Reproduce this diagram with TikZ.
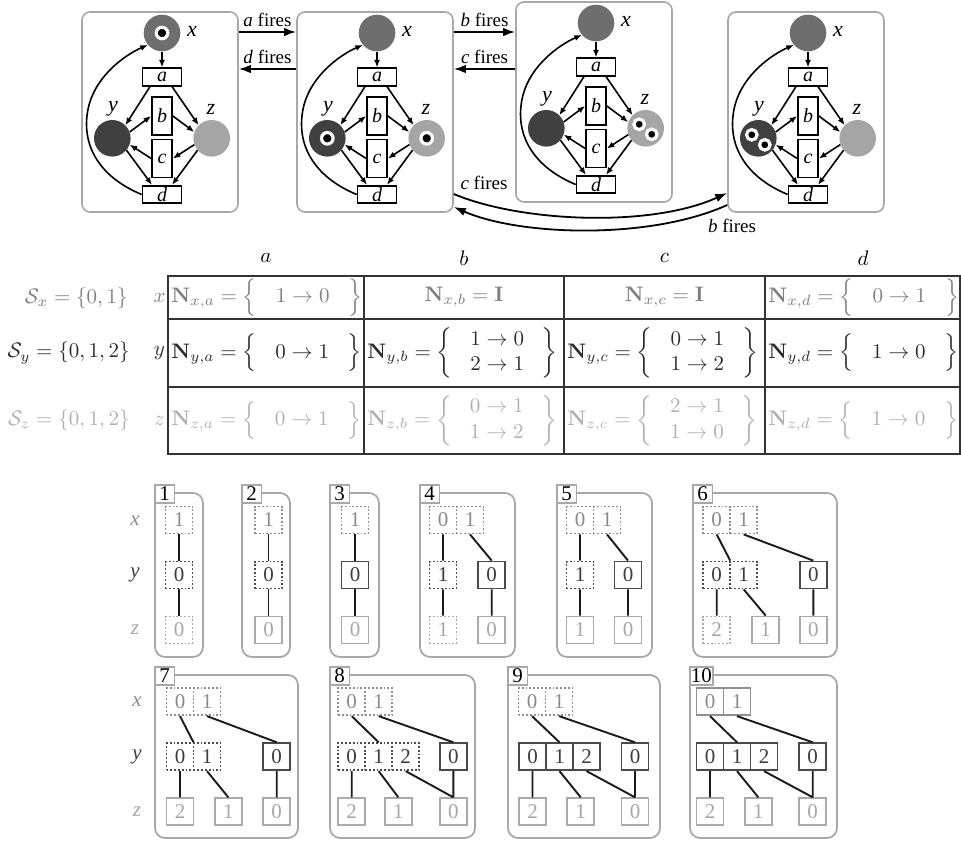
\documentclass[tikz,border=0pt]{standalone}
\usepackage{amsmath}
\usepackage[no-math]{fontspec}
\setmainfont{Liberation Serif}
\usetikzlibrary{arrows.meta,calc}

\definecolor{xfill}{HTML}{6E6E6E}
\definecolor{yfill}{HTML}{404040}
\definecolor{zfill}{HTML}{A5A5A5}
\definecolor{boxgray}{HTML}{A8A8A8}
\definecolor{tline}{HTML}{333333}
\definecolor{tx}{HTML}{7F7F7F}
\definecolor{ty}{HTML}{2B2B2B}
\definecolor{tz}{HTML}{B0B0B0}
\definecolor{xt}{HTML}{8A8A8A}
\definecolor{xb}{HTML}{8F8F8F}
\definecolor{yt}{HTML}{3C3C3C}
\definecolor{yb}{HTML}{4A4A4A}
\definecolor{zt}{HTML}{A6A6A6}
\definecolor{zb}{HTML}{AAAAAA}
\definecolor{edgec}{HTML}{1A1A1A}

\newcommand\pnfont{\fontsize{22}{26}\selectfont\itshape}
\newcommand\trfont{\fontsize{20}{24}\selectfont\itshape}
\newcommand\flfont{\fontsize{19}{22}\selectfont}
\newcommand\dfont{\fontsize{21}{24}\selectfont}
\newcommand\rlfont{\fontsize{21}{24}\selectfont\itshape}

\tikzset{
 place/.style={circle, minimum size=36.6, inner sep=0},
 trans/.style={draw=black, line width=1.7, fill=white, inner sep=0, font=\trfont},
 hbar/.style={trans, minimum width=39, minimum height=17.5},
 vbar/.style={trans, minimum width=20, minimum height=38},
 pnlab/.style={font=\pnfont, inner sep=0},
 arc/.style={line width=1.6, -{Latex[length=7.5,width=6]}},
 token/.style={circle, fill=black, draw=white, line width=3.2, minimum size=11.5, inner sep=0},
 tokentwo/.style={token, minimum size=10.5},
 netbox/.style={draw=boxgray, line width=1.6, rounded corners=8, minimum width=156, minimum height=200, inner sep=0},
 bigarr/.style={line width=1.8, -{Latex[length=12,width=8.5]}},
 flab/.style={font=\flfont, inner sep=0},
 tbl/.style={scale=2.1, inner sep=0},
 cell/.style={minimum width=27, minimum height=27, inner sep=0, line width=1.8, font=\dfont},
 cx/.style={cell, draw=xb, text=xt},
 cy/.style={cell, draw=yb, text=yt},
 cz/.style={cell, draw=zb, text=zt},
 edge/.style={line width=1.9, draw=edgec},
 pbox/.style={draw=boxgray, line width=1.8, rounded corners=10},
 plab/.style={draw=boxgray, line width=1.8, fill=white, minimum width=19.5, minimum height=18, inner sep=1, font=\dfont, anchor=north west, text=black},
 rl/.style={font=\rlfont, inner sep=0},
}

\newcommand\pnet[2]{%
\begin{scope}[shift={#1}, name prefix=#2-]
 \node[netbox] (box) at (160,112) {};
 \node[place, fill=xfill] (x) at (162,33) {};
 \node[place, fill=yfill] (y) at (112.3,138.3) {};
 \node[place, fill=zfill] (z) at (211.7,138.3) {};
 \node[hbar] (a) at (162,77) {a};
 \node[vbar] (b) at (162,116) {b};
 \node[vbar] (c) at (162,158.5) {c};
 \node[hbar] (d) at (162,194.5) {d};
 \node[pnlab] (xl) at (192,31) {x};
 \node[pnlab] (yl) at (113,109) {y};
 \node[pnlab] (zl) at (211,109) {z};
 \draw[arc] (x) -- (a);
 \draw[arc] ([xshift=-12pt]a.south) -- (y.45);
 \draw[arc] ([xshift=10pt]a.south) -- (z.135);
 \draw[arc] (y.20) -- (b.west);
 \draw[arc] (b.east) -- (z.160);
 \draw[arc] (z.200) -- (c.east);
 \draw[arc] (c.west) -- (y.340);
 \draw[arc] (y.320) -- ([xshift=-10pt]d.north);
 \draw[arc] (z.220) -- ([xshift=10pt]d.north);
 \draw[arc] (d.west) .. controls (95,175) and (80,140) .. (89,105) .. controls (97,75) and (125,55) .. (x.220);
\end{scope}}

\newcommand\mddpanel[6]{%
 \draw[pbox] (#1,#2) rectangle (#3,#4);
 \node[plab] (#5) at (#1-1,#2-9) {#6};}

\begin{document}
\begin{tikzpicture}[x=1pt,y=-1pt]
\useasboundingbox (0,0) rectangle (961,841);

% ---------- Petri nets ----------
\pnet{(0,0)}{n1}
\pnet{(215,0)}{n2}
\pnet{(434,-10)}{n3}
\pnet{(646,0)}{n4}

\node[token] (t1) at (n1-x) {};
\node[token] (t2) at (n2-y) {};
\node[token] (t3) at (n2-z) {};
\node[tokentwo] (t4) at ($(n3-z)+(-6.5,-4)$) {};
\node[tokentwo] (t5) at ($(n3-z)+(6,6)$) {};
\node[tokentwo] (t6) at ($(n4-y)+(-6.5,-3.5)$) {};
\node[tokentwo] (t7) at ($(n4-y)+(6.5,6.5)$) {};

\coordinate (r1) at (0,32);
\coordinate (r2) at (0,69);
\draw[bigarr] (n1-box.east |- r1) -- node[flab, above=4pt] {\textit{a} fires} (n2-box.west |- r1);
\draw[bigarr] (n2-box.west |- r2) -- node[flab, above=4pt] {\textit{d} fires} (n1-box.east |- r2);
\draw[bigarr] (n2-box.east |- r1) -- node[flab, above=4pt] {\textit{b} fires} (n3-box.west |- r1);
\draw[bigarr] (n3-box.west |- r2) -- node[flab, above=4pt] {\textit{c} fires} (n2-box.east |- r2);

\coordinate (q1) at (0,194);
\coordinate (q2) at (0,193);
\coordinate (q3) at (0,205);
\coordinate (q4) at (0,207);
\draw[bigarr] (n2-box.east |- q1) .. controls (520,222) and (650,228) .. (n4-box.west |- q2);
\draw[bigarr] (n4-box.west |- q3) .. controls (650,240) and (520,236) .. (n2-box.east |- q4);
\node[flab] (cf) at (484,183) {\textit{c} fires};
\node[flab] (bf) at (732,226) {\textit{b} fires};

% ---------- Table ----------
\draw[tline, line width=1.5] (168,276) rectangle (960,454);
\draw[tline, line width=1.5] (168,319) -- (960,319) (168,387) -- (960,387)
  (364,276) -- (364,454) (564,276) -- (564,454) (765,276) -- (765,454);

\node[tbl] (ha) at (266,258) {$a$};
\node[tbl] (hb) at (464,258) {$b$};
\node[tbl] (hc) at (664.5,258) {$c$};
\node[tbl] (hd) at (863,258) {$d$};

\node[tbl, text=tx, anchor=east] (sx) at (128,298) {$\mathcal{S}_x=\{0,1\}$};
\node[tbl, text=ty, anchor=east] (sy) at (130,353) {$\mathcal{S}_y=\{0,1,2\}$};
\node[tbl, text=tz, anchor=east] (sz) at (130,420.5) {$\mathcal{S}_z=\{0,1,2\}$};
\node[tbl, text=tx] (lx) at (159.5,297.5) {$x$};
\node[tbl, text=ty] (ly) at (159.5,353) {$y$};
\node[tbl, text=tz] (lz) at (159.5,420.5) {$z$};

\node[tbl, text=tx, anchor=west] (nxa) at (171,297.5) {$\mathbf{N}_{x,a}=\Big\{\hspace{.9em}1\to0\hspace{.9em}\Big\}$};
\node[tbl, text=tx] (nxb) at (464,297.5) {$\mathbf{N}_{x,b}=\mathbf{I}$};
\node[tbl, text=tx] (nxc) at (664.5,297.5) {$\mathbf{N}_{x,c}=\mathbf{I}$};
\node[tbl, text=tx, anchor=west] (nxd) at (768,297.5) {$\mathbf{N}_{x,d}=\Big\{\hspace{.9em}0\to1\hspace{.9em}\Big\}$};

\node[tbl, text=ty, anchor=west] (nya) at (171,353) {$\mathbf{N}_{y,a}=\Big\{\hspace{.9em}0\to1\hspace{.9em}\Big\}$};
\node[tbl, text=ty, anchor=west] (nyb) at (367,353) {$\mathbf{N}_{y,b}=\left\{\hspace{.35em}\begin{array}{c}1\to0\\2\to1\end{array}\hspace{.35em}\right\}$};
\node[tbl, text=ty, anchor=west] (nyc) at (567,353) {$\mathbf{N}_{y,c}=\left\{\hspace{.35em}\begin{array}{c}0\to1\\1\to2\end{array}\hspace{.35em}\right\}$};
\node[tbl, text=ty, anchor=west] (nyd) at (768,353) {$\mathbf{N}_{y,d}=\Big\{\hspace{.9em}1\to0\hspace{.9em}\Big\}$};

\node[tbl, text=tz, anchor=west] (nza) at (171,420.5) {$\mathbf{N}_{z,a}=\Big\{\hspace{.9em}0\to1\hspace{.9em}\Big\}$};
\node[tbl, text=tz, anchor=west] (nzb) at (367,420.5) {$\mathbf{N}_{z,b}=\left\{\hspace{.35em}\begin{array}{c}0\to1\\1\to2\end{array}\hspace{.35em}\right\}$};
\node[tbl, text=tz, anchor=west] (nzc) at (567,420.5) {$\mathbf{N}_{z,c}=\left\{\hspace{.35em}\begin{array}{c}2\to1\\1\to0\end{array}\hspace{.35em}\right\}$};
\node[tbl, text=tz, anchor=west] (nzd) at (768,420.5) {$\mathbf{N}_{z,d}=\Big\{\hspace{.9em}1\to0\hspace{.9em}\Big\}$};

% ---------- MDD panels ----------
\node[rl, text=xt] (rx1) at (135,521) {x};
\node[rl, text=yt] (ry1) at (135,575) {y};
\node[rl, text=zt] (rz1) at (135,630) {z};
\node[rl, text=xt] (rx2) at (137,702) {x};
\node[rl, text=yt] (ry2) at (137,757) {y};
\node[rl, text=zt] (rz2) at (137,812) {z};

% panel 1
\mddpanel{155}{493}{203}{657}{L1}{1}
\node[cx,dotted] (p1x) at (179,520) {1};
\node[cy,dotted] (p1y) at (179,575) {0};
\node[cz,dotted] (p1z) at (179,630) {0};
\draw[edge] (p1x) -- (p1y) (p1y) -- (p1z);

% panel 2
\mddpanel{242}{493}{290}{657}{L2}{2}
\node[cx,dotted] (p2x) at (268.5,520) {1};
\node[cy,dotted] (p2y) at (268.5,575) {0};
\node[cz] (p2z) at (268.5,630) {0};
\draw[edge] (p2x) -- (p2y) (p2y) -- (p2z);

% panel 3
\mddpanel{330}{493}{379}{657}{L3}{3}
\node[cx,dotted] (p3x) at (355,520) {1};
\node[cy] (p3y) at (355,575) {0};
\node[cz] (p3z) at (355,630) {0};
\draw[edge] (p3x) -- (p3y) (p3y) -- (p3z);

% panel 4
\mddpanel{420}{493}{515}{657}{L4}{4}
\node[cx,dotted] (p4x0) at (443,520) {0};
\node[cx,dotted] (p4x1) at (470,520) {1};
\node[cy,dotted] (p4y1) at (443,575) {1};
\node[cy] (p4y0) at (491.7,575) {0};
\node[cz,dotted] (p4z1) at (443,630) {1};
\node[cz] (p4z0) at (491.7,630) {0};
\draw[edge] (p4x0.south) -- (p4y1.north) (p4x1.south) -- (p4y0.north)
  (p4y1) -- (p4z1) (p4y0) -- (p4z0);

% panel 5
\mddpanel{557}{493}{652}{657}{L5}{5}
\node[cx,dotted] (p5x0) at (580,520) {0};
\node[cx,dotted] (p5x1) at (607,520) {1};
\node[cy,dotted] (p5y1) at (580,575) {1};
\node[cy] (p5y0) at (628,575) {0};
\node[cz] (p5z1) at (580,630) {1};
\node[cz] (p5z0) at (628,630) {0};
\draw[edge] (p5x0.south) -- (p5y1.north) (p5x1.south) -- (p5y0.north)
  (p5y1) -- (p5z1) (p5y0) -- (p5z0);

% panel 6
\mddpanel{693}{493}{837}{657}{L6}{6}
\node[cx,dotted] (p6x0) at (716.7,520) {0};
\node[cx,dotted] (p6x1) at (743.7,520) {1};
\node[cy,dotted] (p6y0) at (716.7,575) {0};
\node[cy,dotted] (p6y1) at (743.7,575) {1};
\node[cy] (p6ys) at (813.3,575) {0};
\node[cz,dotted] (p6z2) at (716.7,630) {2};
\node[cz] (p6z1) at (765.7,630) {1};
\node[cz] (p6z0) at (813.3,630) {0};
\draw[edge] (p6x0.south) -- ($(p6y0.north)!.5!(p6y1.north)$)
  (p6x1.south) -- (p6ys.north)
  (p6y0) -- (p6z2) (p6y1.south) -- (p6z1.north) (p6ys) -- (p6z0);

% panel 7
\mddpanel{155}{675}{298}{838}{L7}{7}
\node[cx,dotted] (p7x0) at (180,701.7) {0};
\node[cx,dotted] (p7x1) at (207,701.7) {1};
\node[cy,dotted] (p7y0) at (180,756.7) {0};
\node[cy,dotted] (p7y1) at (207,756.7) {1};
\node[cy] (p7ys) at (276.7,756.7) {0};
\node[cz] (p7z2) at (180,811.7) {2};
\node[cz] (p7z1) at (228.3,811.7) {1};
\node[cz] (p7z0) at (276.7,811.7) {0};
\draw[edge] (p7x0.south) -- ($(p7y0.north)!.5!(p7y1.north)$)
  (p7x1.south) -- (p7ys.north)
  (p7y0) -- (p7z2) (p7y1.south) -- (p7z1.north) (p7ys) -- (p7z0);

% panel 8
\mddpanel{330}{675}{475}{838}{L8}{8}
\node[cx,dotted] (p8x0) at (351.7,701.7) {0};
\node[cx,dotted] (p8x1) at (378.7,701.7) {1};
\node[cy,dotted] (p8y0) at (351.7,756.7) {0};
\node[cy,dotted] (p8y1) at (378.7,756.7) {1};
\node[cy,dotted] (p8y2) at (405.7,756.7) {2};
\node[cy] (p8ys) at (453.3,756.7) {0};
\node[cz] (p8z2) at (351.7,811.7) {2};
\node[cz] (p8z1) at (398.3,811.7) {1};
\node[cz] (p8z0) at (453.3,811.7) {0};
\draw[edge] (p8x0.south) -- (p8y1.north)
  (p8x1.south) -- (p8ys.north)
  (p8y0) -- (p8z2) (p8y1.south) -- (p8z1.north)
  (p8y2.south) -- (p8z0.north) (p8ys) -- (p8z0);

% panel 9
\mddpanel{508}{675}{660}{838}{L9}{9}
\node[cx,dotted] (p9x0) at (532,701.7) {0};
\node[cx,dotted] (p9x1) at (559,701.7) {1};
\node[cy] (p9y0) at (532.5,756.7) {0};
\node[cy] (p9y1) at (559.5,756.7) {1};
\node[cy] (p9y2) at (586.5,756.7) {2};
\node[cy] (p9ys) at (635,756.7) {0};
\node[cz] (p9z2) at (532.5,811.7) {2};
\node[cz] (p9z1) at (580.7,811.7) {1};
\node[cz] (p9z0) at (635,811.7) {0};
\draw[edge] (p9x0.south) -- (p9y1.north)
  (p9x1.south) -- (p9ys.north)
  (p9y0) -- (p9z2) (p9y1.south) -- (p9z1.north)
  (p9y2.south) -- (p9z0.north) (p9ys) -- (p9z0);

% panel 10
\mddpanel{690}{675}{837}{838}{L10}{10}
\node[cx] (p10x0) at (710,701.7) {0};
\node[cx] (p10x1) at (737,701.7) {1};
\node[cy] (p10y0) at (710,756.7) {0};
\node[cy] (p10y1) at (737,756.7) {1};
\node[cy] (p10y2) at (764,756.7) {2};
\node[cy] (p10ys) at (812.7,756.7) {0};
\node[cz] (p10z2) at (710,811.7) {2};
\node[cz] (p10z1) at (758.3,811.7) {1};
\node[cz] (p10z0) at (812.7,811.7) {0};
\draw[edge] (p10x0.south) -- (p10y1.north)
  (p10x1.south) -- (p10ys.north)
  (p10y0) -- (p10z2) (p10y1.south) -- (p10z1.north)
  (p10y2.south) -- (p10z0.north) (p10ys) -- (p10z0);

\end{tikzpicture}
\end{document}
